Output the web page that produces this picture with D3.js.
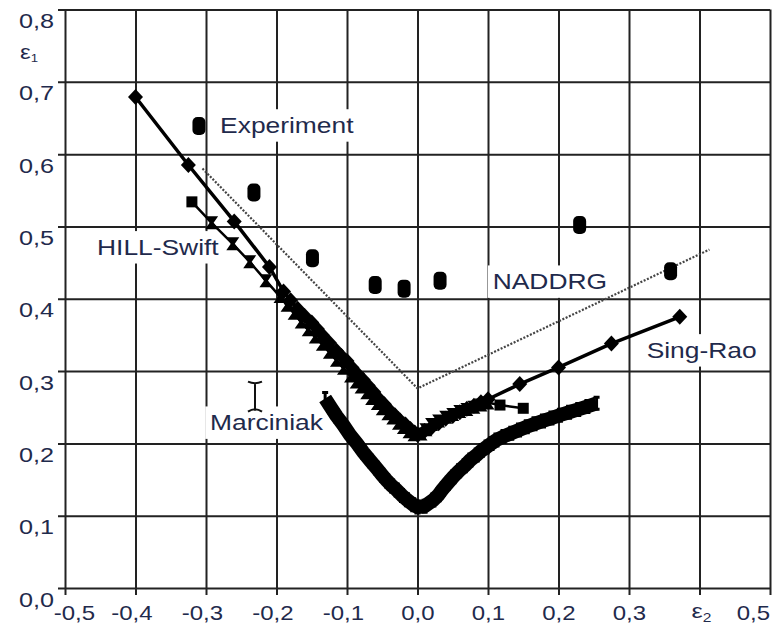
<!DOCTYPE html>
<html><head><meta charset="utf-8">
<script src="https://cdn.jsdelivr.net/npm/d3@7"></script>
<style>body{margin:0;background:#fff}svg{display:block}</style>
</head><body>
<svg id="c" width="774" height="629"></svg>
<script>
// ---- data ----
const xTicks = [-0.5,-0.4,-0.3,-0.2,-0.1,0.0,0.1,0.2,0.3,0.4,0.5];
const xTickLabels = ["-0,5","-0,4","-0,3","-0,2","-0,1","0,0","0,1","0,2","0,3","ε₂","0,5"];
const yTicks = [0.0,0.1,0.2,0.3,0.4,0.5,0.6,0.7,0.8];
const yTickLabels = ["0,0","0,1","0,2","0,3","0,4","0,5","0,6","0,7","0,8"];

const expX = [-0.31,-0.232,-0.149,-0.06,-0.019,0.032,0.23,0.359];
const expY = [0.639,0.547,0.456,0.419,0.414,0.425,0.502,0.438];

const naddrgX = [-0.305,0.0,0.414];
const naddrgY = [0.580,0.276,0.468];

const singRaoX = [-0.40,-0.325,-0.26,-0.21,-0.19,-0.18,-0.17,-0.16,-0.15,-0.142,-0.135,-0.125,-0.115,-0.108,-0.10,-0.093,-0.085,-0.077,-0.07,-0.062,-0.055,-0.047,-0.04,-0.032,-0.025,-0.017,-0.01,-0.004,0.0,0.01,0.02,0.03,0.04,0.05,0.06,0.07,0.08,0.09,0.10,0.145,0.20,0.275,0.372];
const singRaoY = [0.679,0.585,0.507,0.444,0.41,0.398,0.386,0.376,0.367,0.358,0.350,0.339,0.328,0.321,0.314,0.305,0.296,0.288,0.280,0.271,0.262,0.254,0.246,0.239,0.232,0.226,0.220,0.215,0.212,0.217,0.222,0.228,0.234,0.238,0.243,0.248,0.252,0.257,0.261,0.282,0.305,0.338,0.375];

const hillX = [-0.32,-0.292,-0.262,-0.238,-0.215,-0.195,-0.185,-0.175,-0.165,-0.155,-0.145,-0.135,-0.125,-0.115,-0.105,-0.095,-0.087,-0.08,-0.072,-0.065,-0.057,-0.05,-0.042,-0.035,-0.027,-0.02,-0.012,-0.005,0.005,0.012,0.02,0.03,0.04,0.05,0.06,0.07,0.08,0.09,0.10,0.117,0.15];
const hillY = [0.534,0.505,0.476,0.451,0.425,0.403,0.391,0.380,0.368,0.357,0.347,0.337,0.326,0.315,0.304,0.293,0.285,0.278,0.270,0.262,0.255,0.248,0.241,0.235,0.228,0.222,0.216,0.212,0.213,0.219,0.226,0.231,0.236,0.240,0.244,0.247,0.250,0.253,0.256,0.253,0.2485];

const marcX = [-0.131,-0.123,-0.115,-0.105,-0.0957,-0.086,-0.077,-0.067,-0.058,-0.05,-0.043,-0.036,-0.0295,-0.022,-0.015,-0.006,0.0,0.01,0.0225,0.03,0.036,0.043,0.051,0.059,0.067,0.075,0.084,0.091,0.098,0.105,0.112,0.122,0.133,0.144,0.155,0.166,0.178,0.19,0.202,0.215,0.228,0.241,0.254];
const marcY = [0.262,0.25,0.238,0.225,0.2116,0.2,0.188,0.176,0.1655,0.156,0.148,0.141,0.1355,0.128,0.122,0.115,0.112,0.113,0.1217,0.129,0.137,0.145,0.154,0.162,0.169,0.177,0.184,0.19,0.195,0.2,0.2047,0.2095,0.214,0.2185,0.223,0.227,0.231,0.235,0.239,0.243,0.247,0.251,0.2554];

const marcSymbolX = [-0.2305];
const marcSymbolY = [0.2646];

const labelText = ["Experiment","HILL-Swift","NADDRG","Sing-Rao","Marciniak"];
const labelX = [-0.280,-0.4546,0.1067,0.325,-0.2943];
const labelY = [0.629,0.4605,0.413,0.318,0.218];

// ---- layout ----
const svg = d3.select("#c");
const x = d3.scaleLinear().domain([-0.5,0.5]).range([65,770]);
const y = d3.scaleLinear().domain([0,0.8]).range([588,9.5]);
const ink = "#1f2a4c";
const font = "'Liberation Sans', Arial, sans-serif";

// grid via axes
const gx = svg.append("g").attr("transform","translate(0,595)")
  .call(d3.axisBottom(x).tickValues(xTicks).tickSize(-(595-9.5)).tickSizeOuter(0).tickFormat(""));
const gy = svg.append("g").attr("transform","translate(58,0)")
  .call(d3.axisLeft(y).tickValues(yTicks).tickSize(-(770-58)).tickSizeOuter(0).tickFormat(""));
[gx,gy].forEach(g=>{
  g.select(".domain").remove();
  g.selectAll(".tick line").attr("stroke","#222").attr("stroke-width",2);
});

function stext(parent, px, py, str, anchor, size){
  const t = parent.append("g").attr("transform",`translate(${px},${py}) scale(1.2,1)`);
  const tx = t.append("text").attr("text-anchor",anchor).attr("font-family",font)
    .attr("font-size",size).attr("fill",ink).text(str);
  return {t,tx};
}

// tick labels
const tl = svg.append("g");
xTicks.forEach((v,i)=>{
  let px = x(v)+17;
  if(i===0) px = x(v)+30;
  if(i===xTicks.length-1) px = x(v);
  const lab = xTickLabels[i];
  if(lab.startsWith("ε")){
    const o = stext(tl, x(v)+12, 618, "", "end", 21);
    o.tx.append("tspan").text("ε");
    o.tx.append("tspan").attr("font-size",13).attr("dy",4).text("2");
  } else {
    stext(tl, px, 620, lab, "end", 20);
  }
});
yTicks.forEach((v,i)=>{ stext(tl, 54, y(v)+18.5, yTickLabels[i], "end", 21); });
{
  const o = stext(tl, 38, 59, "", "end", 20);
  o.tx.append("tspan").text("ε");
  o.tx.append("tspan").attr("font-size",11).attr("dy",3).text("1");
}

// annotation labels with white boxes
const lg = svg.append("g");
labelText.forEach((s,i)=>{
  const o = stext(lg, x(labelX[i]), y(labelY[i]), s, "start", 22);
  const b = o.tx.node().getBBox();
  o.t.insert("rect","text").attr("x",b.x-4).attr("y",b.y-4).attr("width",b.width+8)
    .attr("height",b.height+8).attr("fill","#fff");
});

// NADDRG dotted line
const line = d3.line().x(d=>x(d[0])).y(d=>y(d[1]));
svg.append("path").datum(d3.zip(naddrgX,naddrgY)).attr("d",line)
  .attr("fill","none").attr("stroke","#444").attr("stroke-width",2.2).attr("stroke-dasharray","2 1.6");

// Experiment points
svg.append("g").selectAll("rect").data(d3.zip(expX,expY)).join("rect")
  .attr("x",d=>x(d[0])-6.5).attr("y",d=>y(d[1])-9).attr("width",13).attr("height",18)
  .attr("rx",5).attr("fill","#000");

// Marciniak thick curve
const mData = d3.zip(marcX,marcY);
svg.append("path").datum(mData).attr("d",line).attr("fill","none").attr("stroke","#000")
  .attr("stroke-width",14).attr("stroke-linejoin","round");
const ibeam = (h,w)=>`M${-w/2},${-h/2}H${w/2}M0,${-h/2}V${h/2}M${-w/2},${h/2}H${w/2}`;
svg.append("g").selectAll("path").data(mData).join("path")
  .attr("transform",d=>`translate(${x(d[0])},${y(d[1])})`).attr("d",ibeam(12,6))
  .attr("stroke","#000").attr("stroke-width",3).attr("fill","none");
// Marciniak symbol next to label
svg.append("g").selectAll("path").data(d3.zip(marcSymbolX,marcSymbolY)).join("path")
  .attr("transform",d=>`translate(${x(d[0])},${y(d[1])})`)
  .attr("d","M-7,-15 Q0,-12 7,-15 M0,-14 V14 M-7,15 Q0,10 7,15")
  .attr("stroke","#111").attr("stroke-width",2).attr("fill","none");

// HILL-Swift
const hData = d3.zip(hillX,hillY);
svg.append("path").datum(hData).attr("d",line).attr("fill","none").attr("stroke","#000").attr("stroke-width",2.5);
svg.append("g").selectAll("path").data(hData).join("path")
  .attr("transform",d=>`translate(${x(d[0])},${y(d[1])})`)
  .attr("d",(d,i)=> (i===0||i>=hData.length-2) ? "M-5.5,-5.5H5.5V5.5H-5.5Z" : "M-6.5,-6.5H6.5L2,0L6.5,6.5H-6.5L-2,0Z")
  .attr("fill","#000");

// Sing-Rao
const sData = d3.zip(singRaoX,singRaoY);
svg.append("path").datum(sData).attr("d",line).attr("fill","none").attr("stroke","#000").attr("stroke-width",3.5);
svg.append("g").selectAll("path").data(sData).join("path")
  .attr("transform",d=>`translate(${x(d[0])},${y(d[1])})`)
  .attr("d","M0,-8L7.5,0L0,8L-7.5,0Z").attr("fill","#000");
</script>
</body></html>
